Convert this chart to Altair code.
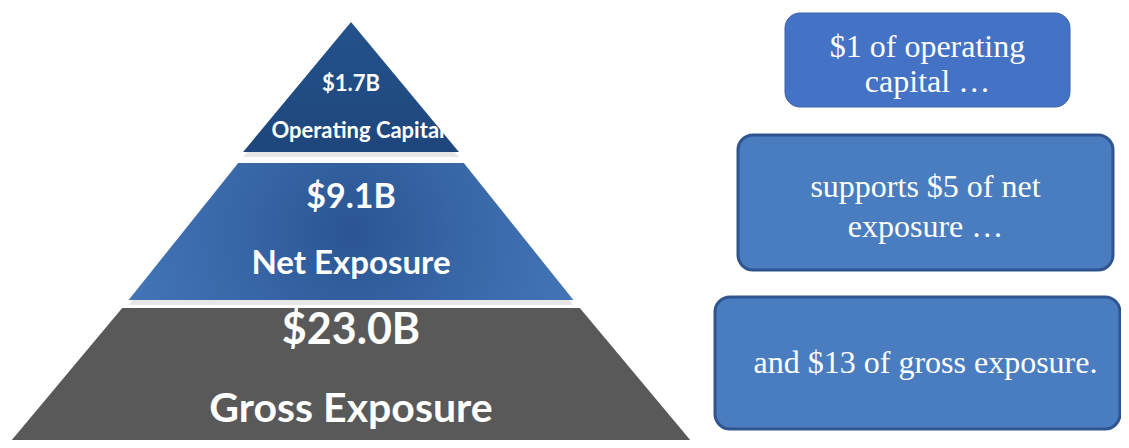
import altair as alt
import pandas as pd

# ---- data ----
tiers = ["Operating Capital", "Net Exposure", "Gross Exposure"]
amounts_b = [1.7, 9.1, 23.0]          # $ billions
ratios = [1, 5, 13]                    # per $1 of operating capital
box_lines = [
    ["$1 of operating", "capital …"],
    ["supports $5 of net", "exposure …"],
    ["and $13 of gross exposure."],
]

# ---- layout (diagram geometry, image-pixel units) ----
CX, APEX = 351, 22
tier_slope = [0.83, 0.80, 0.80]
tier_top = [22, 163, 308]
tier_bot = [152, 300, 446]
FLOOR = 440   # lowest drawable row
tier_fill = [
    alt.LinearGradient(gradient="linear", x1=0, y1=0, x2=0, y2=1,
                       stops=[alt.GradientStop(color="#24528c", offset=0),
                              alt.GradientStop(color="#1e467c", offset=1)]),
    alt.RadialGradient(gradient="radial", x1=0.5, y1=0.5, r1=0, x2=0.5, y2=0.5, r2=0.6,
                       stops=[alt.GradientStop(color="#2a5592", offset=0),
                              alt.GradientStop(color="#3a69aa", offset=0.5),
                              alt.GradientStop(color="#4679bc", offset=1)]),
    "#595959",
]
val_y = [84, 198, 331]
val_fs = [22, 34, 43]
name_y = [131, 264, 410]
name_fs = [22, 33, 41]
name_x = [358, 351, 351]

box_x = [785, 738, 715]
box_x2 = [1070, 1113, 1120]
box_y = [13, 135, 297]
box_y2 = [107, 270, 429]
box_fill = ["#4472c4", "#4a7dbf", "#4a7dbf"]
box_stroke = ["#3b62a8", "#2f5590", "#2f5590"]
box_sw = [1, 3, 3]
line_y = [[47, 82], [187, 227], [363]]
text_dx = [0, 0, 8]
BOX_FS = 32

# ---- tables ----
poly_rows = []
for i, t in enumerate(tiers):
    for y in (tier_top[i], tier_bot[i]):
        h = tier_slope[i] * (y - APEX)
        poly_rows.append({"tier": t, "y": min(y, FLOOR), "xl": CX - h, "xr": CX + h})
poly = pd.DataFrame(poly_rows)
shadow = poly.assign(y=(poly["y"] + 5).clip(upper=FLOOR))

labels = []
for i, t in enumerate(tiers):
    labels.append({"x": CX, "y": val_y[i], "text": f"${amounts_b[i]:.1f}B", "fs": val_fs[i]})
    labels.append({"x": name_x[i], "y": name_y[i], "text": t, "fs": name_fs[i]})
labels = pd.DataFrame(labels)

boxes = pd.DataFrame({"x": box_x, "x2": box_x2, "y": box_y, "y2": box_y2,
                      "fill": box_fill, "stroke": box_stroke, "sw": box_sw,
                      "ratio": ratios})
btext = []
for i, lines in enumerate(box_lines):
    for j, ln in enumerate(lines):
        btext.append({"x": (box_x[i] + box_x2[i]) / 2 + text_dx[i], "y": line_y[i][j], "text": ln})
btext = pd.DataFrame(btext)

X = alt.Scale(domain=[8, 1121])
Y = alt.Scale(domain=[8, 440], reverse=True)
noax = None

layers = []
# shadows
for i, t in enumerate(tiers[:2]):
    layers.append(
        alt.Chart(shadow[shadow.tier == t]).mark_area(orient="horizontal", color="#c9c9c9", opacity=0.45)
        .encode(y=alt.Y("y:Q", scale=Y, axis=noax),
                x=alt.X("xl:Q", scale=X, axis=noax), x2="xr:Q")
    )
# tiers
for i, t in enumerate(tiers):
    layers.append(
        alt.Chart(poly[poly.tier == t]).mark_area(orient="horizontal", color=tier_fill[i])
        .encode(y=alt.Y("y:Q", scale=Y, axis=noax),
                x=alt.X("xl:Q", scale=X, axis=noax), x2="xr:Q")
    )

tier_text = alt.Chart(labels).mark_text(font="Lato", fontWeight="bold", color="white",
                                        align="center", baseline="middle").encode(
    x=alt.X("x:Q", scale=X, axis=noax), y=alt.Y("y:Q", scale=Y, axis=noax),
    text="text:N", size=alt.Size("fs:Q", scale=None, legend=None))

box_marks = alt.Chart(boxes).mark_rect(cornerRadius=15).encode(
    x=alt.X("x:Q", scale=X, axis=noax), x2="x2:Q",
    y=alt.Y("y:Q", scale=Y, axis=noax), y2="y2:Q",
    fill=alt.Fill("fill:N", scale=None, legend=None),
    stroke=alt.Stroke("stroke:N", scale=None, legend=None),
    strokeWidth=alt.StrokeWidth("sw:Q", scale=None, legend=None))

box_text = alt.Chart(btext).mark_text(font="Liberation Serif", fontSize=BOX_FS, color="white",
                                      align="center", baseline="middle").encode(
    x=alt.X("x:Q", scale=X, axis=noax), y=alt.Y("y:Q", scale=Y, axis=noax),
    text="text:N")

chart = alt.layer(*layers, tier_text, box_marks, box_text).properties(
    width=1113, height=432, padding=0, autosize=alt.AutoSizeParams(type="none"),
    background="white"
).configure_view(stroke=None)

chart.save("out.html", embed_options={"renderer": "svg", "actions": False})
